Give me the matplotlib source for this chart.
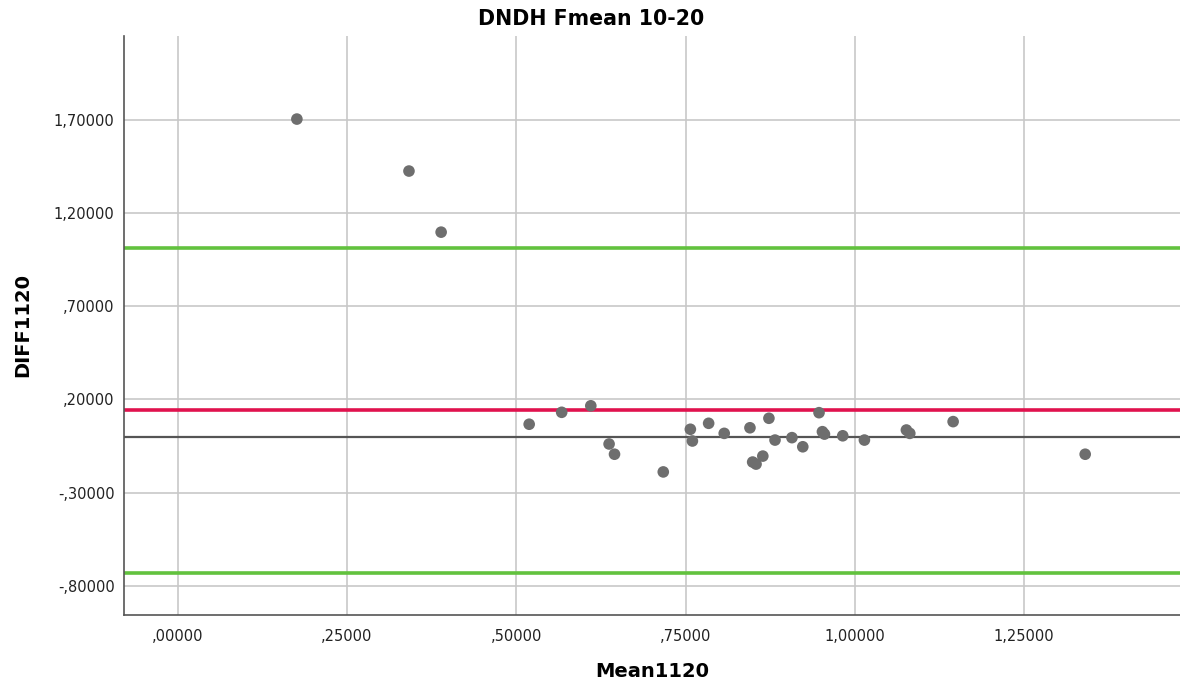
import matplotlib
matplotlib.use("Agg")
import matplotlib.pyplot as plt
from matplotlib.ticker import FuncFormatter

mean1120 = [0.176, 0.3415, 0.389, 0.519, 0.567, 0.610, 0.637, 0.645, 0.717,
            0.757, 0.760, 0.784, 0.807, 0.845, 0.849, 0.854, 0.864, 0.873,
            0.882, 0.907, 0.923, 0.947, 0.952, 0.955, 0.982, 1.014, 1.076,
            1.081, 1.145, 1.340]
diff1120 = [1.705, 1.426, 1.098, 0.067, 0.131, 0.166, -0.039, -0.094, -0.189,
            0.040, -0.023, 0.072, 0.018, 0.048, -0.136, -0.147, -0.104, 0.099,
            -0.018, -0.005, -0.054, 0.129, 0.027, 0.014, 0.005, -0.018, 0.036,
            0.018, 0.081, -0.094]
mean_diff = 0.141
upper_loa = 1.013
lower_loa = -0.733
x_ticks = [0.0, 0.25, 0.5, 0.75, 1.0, 1.25]
y_ticks = [-0.8, -0.3, 0.2, 0.7, 1.2, 1.7]

fig = plt.figure(figsize=(11.8, 6.88), dpi=100)
ax = fig.add_axes([0.1053, 0.1061, 0.8947, 0.8416])

ax.set_xlim(-0.0789, 1.480)
ax.set_ylim(-0.957, 2.151)
ax.set_xticks(x_ticks)
ax.set_yticks(y_ticks)
ax.grid(True, color="#c8c8c8", linewidth=1.2)
ax.set_axisbelow(True)

def fmt(v, pos):
    s = f"{v:.5f}".replace(".", ",")
    s = s.replace("-0,", "-,")
    if s.startswith("0,"):
        s = s[1:]
    return s

ax.xaxis.set_major_formatter(FuncFormatter(fmt))
ax.yaxis.set_major_formatter(FuncFormatter(fmt))
ax.tick_params(length=0, labelsize=10.5, colors="#222222")
ax.tick_params(axis="y", pad=7)
ax.tick_params(axis="x", pad=10)

for s in ["top", "right"]:
    ax.spines[s].set_visible(False)
for s in ["left", "bottom"]:
    ax.spines[s].set_color("#555555")
    ax.spines[s].set_linewidth(1.2)

ax.axhline(0, color="#555555", linewidth=1.6, zorder=2)
ax.axhline(upper_loa, color="#62c23e", linewidth=2.6, zorder=2)
ax.axhline(lower_loa, color="#62c23e", linewidth=2.6, zorder=2)
ax.axhline(mean_diff, color="#e0124e", linewidth=2.6, zorder=2)

ax.scatter(mean1120, diff1120, s=70, color="#6e6e6e", edgecolors="none", zorder=3)

fig.text(0.501, 0.973, "DNDH Fmean 10-20", ha="center", va="center",
         fontsize=14.8, fontweight="bold")
ax.set_xlabel("Mean1120", fontsize=14, fontweight="bold", va="center")
ax.set_ylabel("DIFF1120", fontsize=14, fontweight="bold", va="center")
ax.xaxis.set_label_coords(0.5, -0.098)
ax.yaxis.set_label_coords(-0.0960, 0.5)

fig.savefig("out.png", dpi=100)
